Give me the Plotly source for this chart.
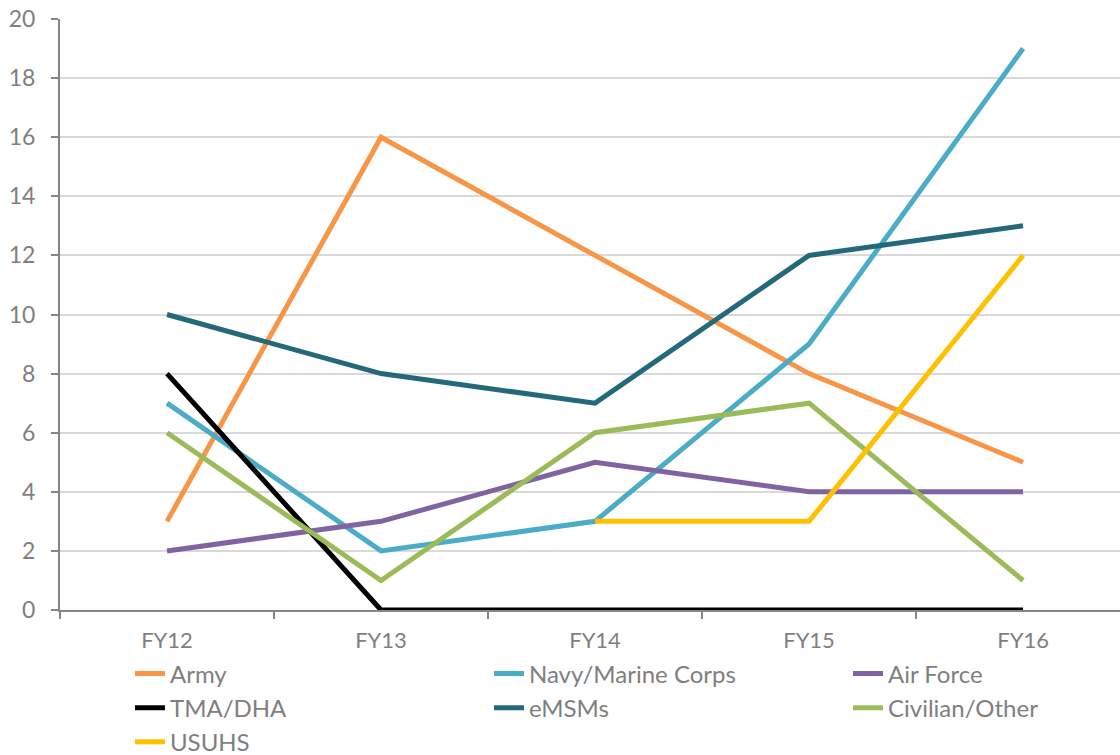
import plotly.graph_objects as go

# Fiscal years on the category axis
years = ["FY12", "FY13", "FY14", "FY15", "FY16"]

# Counts per organisation and year (None = no data that year)
army = [3, 16, 12, 8, 5]
navy_marine = [7, 2, 3, 9, 19]
air_force = [2, 3, 5, 4, 4]
tma_dha = [8, 0, 0, 0, 0]
emsms = [10, 8, 7, 12, 13]
civilian_other = [6, 1, 6, 7, 1]
usuhs = [None, None, 3, 3, 12]

# name, values, colour, legend column
series = [
    ("Army", army, "#F79646", "legend"),
    ("Navy/Marine Corps", navy_marine, "#4BACC6", "legend2"),
    ("Air Force", air_force, "#8064A2", "legend3"),
    ("TMA/DHA", tma_dha, "#000000", "legend"),
    ("eMSMs", emsms, "#23697A", "legend2"),
    ("Civilian/Other", civilian_other, "#9BBB59", "legend3"),
    ("USUHS", usuhs, "#FFC000", "legend"),
]

FONT = "Lato, Calibri, sans-serif"
GREY = "#7F7F7F"

fig = go.Figure()
for name, values, color, leg in series:
    fig.add_trace(go.Scatter(
        x=years, y=values, name=name, mode="lines",
        line=dict(color=color, width=5),
        connectgaps=False, cliponaxis=False,
        legend=leg, legendgroup=name,
    ))


def legend_column(x):
    return dict(
        orientation="v",
        x=x, xanchor="left",
        y=-0.07, yanchor="top",
        font=dict(family=FONT, size=24, color=GREY),
        traceorder="normal",
        tracegroupgap=1,
        itemwidth=30,
        bgcolor="rgba(0,0,0,0)",
    )


fig.update_layout(
    width=1120, height=755,
    margin=dict(l=60, r=0, t=19, b=145, autoexpand=False),
    paper_bgcolor="white", plot_bgcolor="white",
    font=dict(family=FONT, size=23, color=GREY),
    showlegend=True,
    legend=legend_column(0.066),
    legend2=legend_column(0.4047),
    legend3=legend_column(0.7434),
)

fig.update_xaxes(
    type="category",
    range=[-0.5, 4.453],
    showgrid=False,
    showline=True, linecolor="#868686", linewidth=2,
    ticks="outside", tickson="boundaries", ticklen=7, tickwidth=2,
    tickcolor="#868686",
    ticklabelstandoff=10,
    tickfont=dict(family=FONT, size=22, color=GREY),
    zeroline=False,
)

fig.update_yaxes(
    range=[0, 20], dtick=2,
    showgrid=True, gridcolor="#D9D9D9", gridwidth=2,
    showline=True, linecolor="#868686", linewidth=2,
    ticks="outside", ticklen=7, tickwidth=2, tickcolor="#868686",
    ticklabelstandoff=11,
    tickfont=dict(family=FONT, size=23, color=GREY),
    zeroline=False,
)

fig.write_html("out.html")
